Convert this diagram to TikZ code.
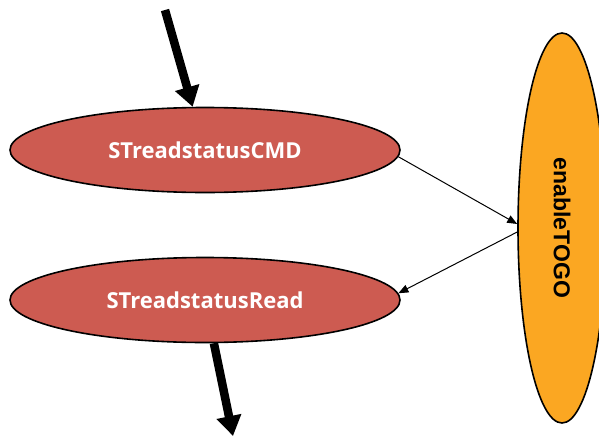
\documentclass[tikz,border=0pt]{standalone}
\usepackage{fontspec}
\newfontfamily\statefont{Open Sans}
\newfontfamily\togofont{Liberation Sans}
\usetikzlibrary{shapes.geometric,arrows.meta}
\definecolor{statered}{HTML}{CD5B51}
\definecolor{togoorange}{HTML}{FBA722}
\tikzset{
  state/.style={ellipse,draw,line width=1.6pt,fill=statered,text=white,
    minimum width=390pt,minimum height=85pt,inner sep=0pt,
    font=\statefont\bfseries\fontsize{22}{26}\selectfont},
  flow/.style={line width=8.5pt,-{Triangle[length=20pt,width=24pt]}},
  link/.style={line width=1pt,-{Triangle[length=10pt,width=8pt]}}
}
\begin{document}
\begin{tikzpicture}[x=1pt,y=-1pt]
\useasboundingbox (0,0) rectangle (599,439);
\node [state] (cmd) at (205,150) {STreadstatusCMD};
\node [state] (read) at (205,300) {STreadstatusRead};
\node [ellipse,draw,line width=1.6pt,fill=togoorange,rotate=-90,
  minimum width=390pt,minimum height=88pt,inner sep=0pt,
  font=\togofont\bfseries\fontsize{23}{27}\selectfont] (togo) at (562,228) {enableTOGO};
\coordinate (in) at (165,10);
\coordinate (out) at (233,436);
\draw [flow] (in) -- (cmd);
\draw [flow] (read) -- (out);
\draw [link] (cmd.-2) -- ([yshift=4pt]togo.south);
\draw [link] ([yshift=-4pt]togo.south) -- (read.2);
\end{tikzpicture}
\end{document}
